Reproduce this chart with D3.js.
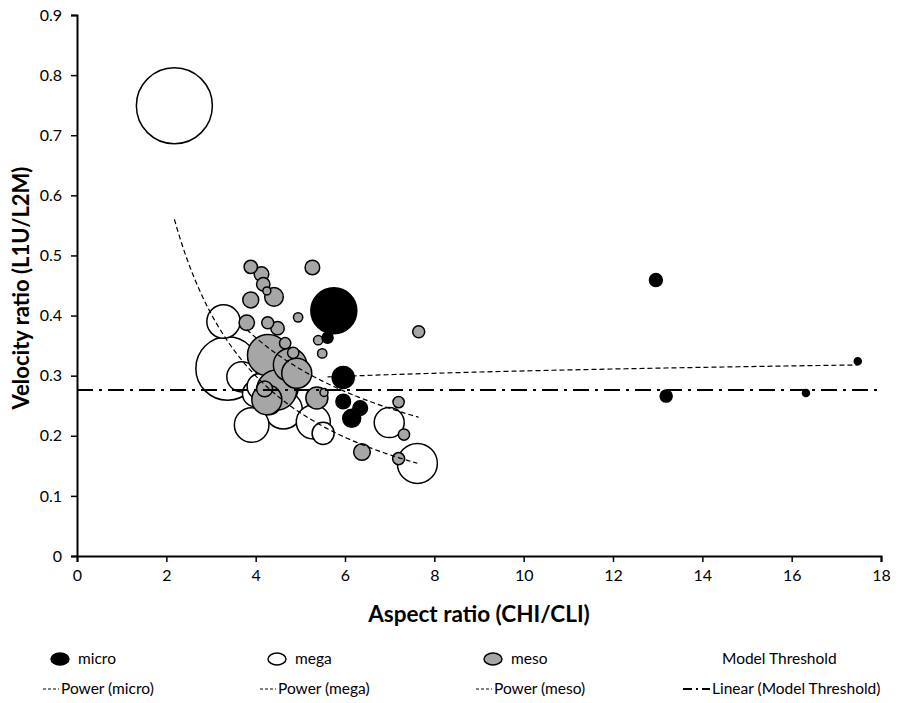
<!DOCTYPE html>
<html>
<head>
<meta charset="utf-8">
<script src="https://cdn.jsdelivr.net/npm/d3@7"></script>
<style>
  body { margin: 0; background: #fff; }
  text { font-family: Lato, "Open Sans", sans-serif; fill: #000; }
</style>
</head>
<body>
<script>
// bubble series: x = aspect ratio, y = velocity ratio, size = bubble size
const microX = [5.75, 5.61, 5.96, 5.96, 6.34, 6.15, 12.96, 13.19, 16.32, 17.48];
const microY = [0.408, 0.363, 0.297, 0.257, 0.246, 0.229, 0.459, 0.266, 0.271, 0.324];
const microSize = [36.6, 2.1, 8.4, 3.7, 3.7, 5.6, 2.9, 2.5, 0.85, 0.85];

const megaX = [2.18, 3.37, 3.28, 3.69, 3.91, 4.10, 4.21, 4.21, 4.62, 4.55, 5.29, 5.51, 6.99, 7.62, 4.0, 4.3];
const megaY = [0.749, 0.312, 0.390, 0.298, 0.218, 0.282, 0.276, 0.273, 0.243, 0.280, 0.223, 0.204, 0.222, 0.154, 0.27, 0.255];
const megaSize = [100, 69.5, 19.3, 15.6, 20.7, 11.7, 4.4, 1.7, 25, 22.4, 20, 8.4, 15.6, 27.7, 12, 10];

const mesoX = [3.89, 4.13, 4.17, 4.25, 4.41, 3.89, 5.27, 3.80, 4.27, 4.49, 4.95, 5.40, 5.49, 7.65,
  4.28, 4.66, 4.84, 4.77, 4.92, 4.47, 4.25, 5.37, 5.53, 6.38, 7.20, 7.32, 7.20, 4.20];
const mesoY = [0.481, 0.469, 0.452, 0.441, 0.431, 0.426, 0.480, 0.388, 0.388, 0.379, 0.397, 0.359, 0.337, 0.373,
  0.334, 0.354, 0.338, 0.318, 0.304, 0.276, 0.26, 0.263, 0.272, 0.173, 0.256, 0.202, 0.162, 0.278];
const mesoSize = [3.1, 3.7, 3.1, 1.1, 6, 4.4, 3.7, 4.1, 2.5, 3.1, 1.5, 1.5, 1.5, 2.5,
  29.7, 2.2, 2.2, 19.3, 15.6, 27.7, 15.6, 8.4, 1.1, 4.8, 2.2, 2.2, 2.5, 4.4];

// model threshold series and the power trendlines (y = a * x^b)
const thresholdX = [0, 18];
const thresholdY = [0.276, 0.276];
const trendNames = ['micro', 'mega', 'meso'];
const trendA = [0.270, 1.25, 0.959];
const trendB = [0.057, -1.03, -0.70];

const xTicks = [0, 2, 4, 6, 8, 10, 12, 14, 16, 18];
const yTicks = [0, 0.1, 0.2, 0.3, 0.4, 0.5, 0.6, 0.7, 0.8, 0.9];

const svgWidth = 898;
const svgHeight = 703;
const margin = { top: 15, right: 17, bottom: 147, left: 77 };
const width = svgWidth - margin.left - margin.right;
const height = svgHeight - margin.top - margin.bottom;

const svg = d3.select('body')
  .append('svg')
  .attr('width', svgWidth)
  .attr('height', svgHeight);

const g = svg.append('g')
  .attr('transform', `translate(${margin.left}, ${margin.top})`);

const xScale = d3.scaleLinear().domain([0, 18]).range([0, width]);
const yScale = d3.scaleLinear().domain([0, 0.9]).range([height, 0]);
const rScale = d3.scaleSqrt().domain([0, 100]).range([0, 38]);

// axes
const xAxis = g.append('g')
  .attr('transform', `translate(0, ${height})`)
  .call(d3.axisBottom(xScale).tickValues(xTicks).tickSize(6).tickPadding(8).tickFormat(d3.format('d')));
const yAxis = g.append('g')
  .call(d3.axisLeft(yScale).tickValues(yTicks).tickSize(6).tickPadding(9).tickFormat(d => d === 0 ? '0' : d3.format('.1f')(d)));

[xAxis, yAxis].forEach(a => {
  a.selectAll('path').attr('stroke', '#000').attr('stroke-width', 2);
  a.selectAll('line').attr('stroke', '#000').attr('stroke-width', 1.5);
  a.selectAll('text').attr('font-size', 16).attr('font-family', 'Lato, sans-serif').attr('fill', '#000');
});

// bubbles: series drawn mega, meso, micro; largest first inside each series
const fills = { micro: '#000', mega: '#fff', meso: '#a6a6a6' };
const seriesOrder = { mega: 0, meso: 1, micro: 2 };
const bubbles = [];
microX.forEach((x, i) => bubbles.push({ s: 'micro', x, y: microY[i], size: microSize[i] }));
megaX.forEach((x, i) => bubbles.push({ s: 'mega', x, y: megaY[i], size: megaSize[i] }));
mesoX.forEach((x, i) => bubbles.push({ s: 'meso', x, y: mesoY[i], size: mesoSize[i] }));
bubbles.sort((a, b) => (seriesOrder[a.s] - seriesOrder[b.s]) || (b.size - a.size));

g.selectAll('circle.bubble')
  .data(bubbles)
  .enter().append('circle')
  .attr('class', 'bubble')
  .attr('cx', d => xScale(d.x))
  .attr('cy', d => yScale(d.y))
  .attr('r', d => rScale(d.size))
  .attr('fill', d => fills[d.s])
  .attr('stroke', '#000')
  .attr('stroke-width', 1.5);

// power trendlines over the x range of each series
const seriesX = { micro: microX, mega: megaX, meso: mesoX };
const line = d3.line().x(d => xScale(d[0])).y(d => yScale(d[1]));
trendNames.forEach((name, i) => {
  const [x0, x1] = d3.extent(seriesX[name]);
  const pts = d3.range(0, 81).map(k => {
    const x = x0 + (x1 - x0) * k / 80;
    return [x, trendA[i] * Math.pow(x, trendB[i])];
  });
  g.append('path')
    .datum(pts)
    .attr('fill', 'none')
    .attr('stroke', '#000')
    .attr('stroke-width', 1.2)
    .attr('stroke-dasharray', '5,3')
    .attr('d', line);
});

// linear trendline of the model threshold
g.append('path')
  .datum(thresholdX.map((x, i) => [x, thresholdY[i]]))
  .attr('fill', 'none')
  .attr('stroke', '#000')
  .attr('stroke-width', 2)
  .attr('stroke-dasharray', '16,6,3,6')
  .attr('d', line);

// axis titles
svg.append('text')
  .attr('x', margin.left + width / 2)
  .attr('y', 622)
  .attr('text-anchor', 'middle')
  .attr('font-size', 22.5)
  .attr('font-weight', 'bold')
  .text('Aspect ratio (CHI/CLI)');

svg.append('text')
  .attr('transform', 'translate(29, 288) rotate(-90)')
  .attr('text-anchor', 'middle')
  .attr('font-size', 22)
  .attr('font-weight', 'bold')
  .text('Velocity ratio (L1U/L2M)');

// legend
const legend = svg.append('g');
const row1 = 659, row2 = 689;
const markerX = [60, 277, 493];
['micro', 'mega', 'meso'].forEach((name, i) => {
  legend.append('ellipse')
    .attr('cx', markerX[i]).attr('cy', row1)
    .attr('rx', 9).attr('ry', 6)
    .attr('fill', fills[name]).attr('stroke', '#000').attr('stroke-width', 1.5);
  legend.append('text')
    .attr('x', markerX[i] + 18).attr('y', row1 + 5)
    .attr('font-size', 15.5)
    .text(name);
  legend.append('line')
    .attr('x1', markerX[i] - 17).attr('x2', markerX[i] - 1)
    .attr('y1', row2).attr('y2', row2)
    .attr('stroke', '#000').attr('stroke-width', 1).attr('stroke-dasharray', '3,2');
  legend.append('text')
    .attr('x', markerX[i] + 1).attr('y', row2 + 5)
    .attr('font-size', 15.5)
    .text(`Power (${name})`);
});
legend.append('text')
  .attr('x', 722).attr('y', row1 + 5)
  .attr('font-size', 15.5)
  .text('Model Threshold');
legend.append('line')
  .attr('x1', 683).attr('x2', 710)
  .attr('y1', row2).attr('y2', row2)
  .attr('stroke', '#000').attr('stroke-width', 2).attr('stroke-dasharray', '9,4,2,4');
legend.append('text')
  .attr('x', 712).attr('y', row2 + 5)
  .attr('font-size', 15.5)
  .text('Linear (Model Threshold)');
</script>
</body>
</html>
